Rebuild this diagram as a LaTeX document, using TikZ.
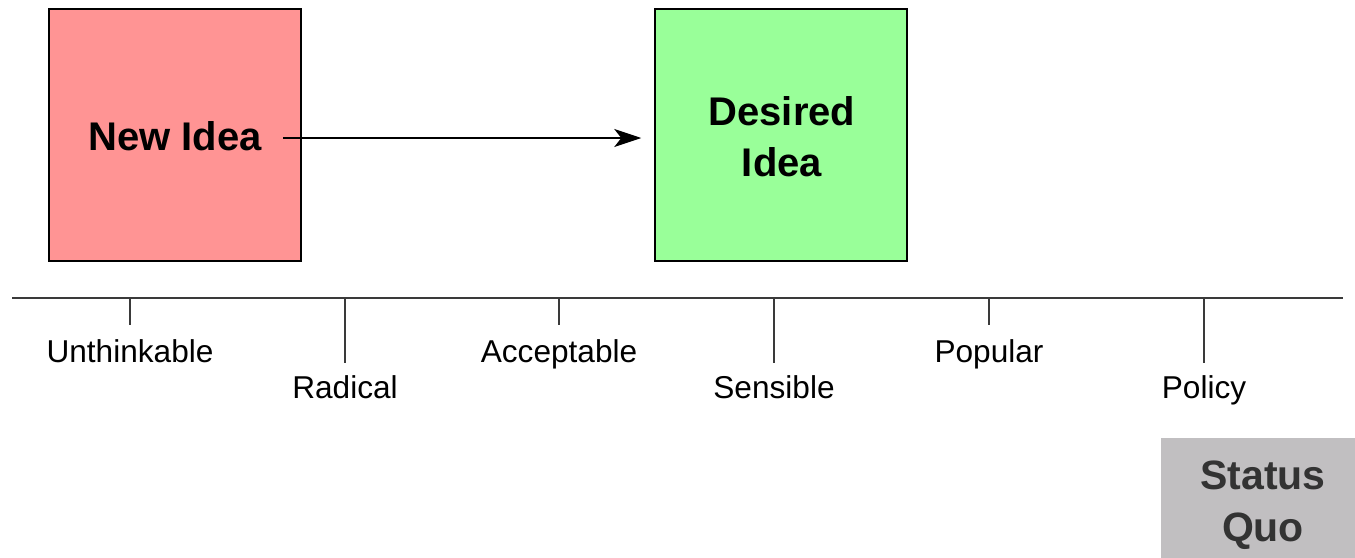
\documentclass[tikz,border=0pt]{standalone}
\usepackage{fontspec}
\setmainfont{Liberation Sans}
\usetikzlibrary{arrows.meta}
\definecolor{pinkfill}{HTML}{FF9494}
\definecolor{greenfill}{HTML}{99FF99}
\definecolor{sqfill}{HTML}{C1BFC1}
\definecolor{sqtext}{HTML}{333333}
\definecolor{axisgray}{HTML}{3A3A3A}
\begin{document}
\begin{tikzpicture}[x=1pt,y=-1pt,
  ideabox/.style={draw=black,line width=1.5pt,minimum width=252pt,minimum height=252pt,inner sep=0pt},
  bigtext/.style={font=\fontsize{40}{51}\selectfont\bfseries,align=center},
  lbl/.style={font=\fontsize{31.6}{38}\selectfont,anchor=base,inner sep=0pt},
  tick/.style={draw=axisgray,line width=1.4pt}]
\useasboundingbox (0,0) rectangle (1355,557);
% boxes
\node[ideabox,fill=pinkfill] (newbox) at (175,135) {};
\node[bigtext,anchor=base] (newtxt) at (175,150) {New Idea};
\node[ideabox,fill=greenfill] (desired) at (781,135) {};
\node[bigtext] (destxt) at (782,137) {Desired\\Idea};
\node[fill=sqfill,minimum width=200pt,minimum height=125pt,inner sep=0pt,anchor=north west] (sq) at (1161,438) {};
\node[font=\fontsize{41}{52}\selectfont\bfseries,text=sqtext,align=center] (sqtxt) at (1263,505) {Status\\Quo};
% arrow
\coordinate (arrstart) at (283,138);
\draw[line width=1.5pt,-{Stealth[length=27pt,width=18pt,inset=7pt]},shorten >=13pt] (arrstart) -- (desired.west |- arrstart);
% axis
\coordinate (axL) at (12,298);
\coordinate (axR) at (1343,298);
\draw[tick] (axL) -- (axR);
\foreach \nm/\x/\len/\base/\txt in {u/130/325/362/Unthinkable, r/345/363/398/Radical, a/559/325/362/Acceptable, s/774/363/398/Sensible, p/989/325/362/Popular, q/1204/363/398/Policy}{
  \coordinate (t\nm) at (\x,298);
  \coordinate (e\nm) at (\x,\len);
  \draw[tick] (t\nm) -- (e\nm);
  \node[lbl] (l\nm) at (\x,\base) {\txt};
}
\end{tikzpicture}
\end{document}
